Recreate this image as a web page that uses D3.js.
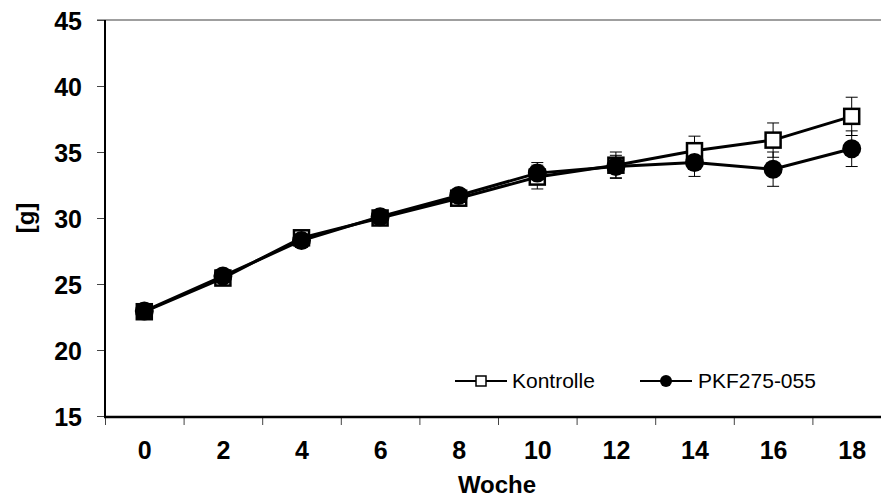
<!DOCTYPE html>
<html>
<head>
<meta charset="utf-8">
<script src="https://cdn.jsdelivr.net/npm/d3@7"></script>
<style>
  body { margin: 0; background: #fff; }
  svg { display: block; font-family: Arial, "Liberation Sans", Helvetica, sans-serif; }
  .tickLabel text { font-size: 25px; font-weight: bold; fill: #000; }
  .axisTitle { font-size: 24px; font-weight: bold; fill: #000; }
  .legendText { font-size: 21px; fill: #000; }
</style>
</head>
<body>
<div id="chart"></div>
<script>
// chart data
var weeks = [0, 2, 4, 6, 8, 10, 12, 14, 16, 18];
var kontrolle = [22.9, 25.45, 28.5, 30.0, 31.5, 33.1, 34.0, 35.1, 35.9, 37.7];
var kontrolleErr = [0.4, 0.4, 0.4, 0.4, 0.5, 0.9, 1.0, 1.1, 1.3, 1.45];
var pkf = [22.95, 25.6, 28.3, 30.1, 31.7, 33.4, 33.9, 34.2, 33.7, 35.25];
var pkfErr = [0.4, 0.4, 0.4, 0.4, 0.5, 0.8, 0.85, 1.05, 1.3, 1.35];
var yTicks = [15, 20, 25, 30, 35, 40, 45];
var seriesNames = ["Kontrolle", "PKF275-055"];

var svgWidth = 881;
var svgHeight = 499;

var svg = d3.select("#chart")
  .append("svg")
  .attr("width", svgWidth)
  .attr("height", svgHeight);

// x: weeks placed at category centres, tick marks between categories
var xScale = d3.scaleLinear()
  .domain([-1, 19])
  .range([105, 891]);

var yScale = d3.scaleLinear()
  .domain([15, 45])
  .range([416, 20]);

// top grey line at max value
svg.append("line")
  .attr("x1", 97).attr("x2", svgWidth)
  .attr("y1", yScale(45)).attr("y2", yScale(45))
  .attr("stroke", "#7f7f7f")
  .attr("stroke-width", 1.5);

// y axis
var leftAxis = d3.axisLeft(yScale)
  .tickValues(yTicks)
  .tickSize(8)
  .tickPadding(15);

var yAxisG = svg.append("g")
  .attr("class", "tickLabel")
  .attr("transform", "translate(105,0)")
  .call(leftAxis);
yAxisG.select(".domain").remove();
yAxisG.selectAll("line").attr("stroke", "#444").attr("stroke-width", 1);
yAxisG.selectAll("text").attr("dy", "0.36em").attr("font-family", "Arial, Liberation Sans, sans-serif");

svg.append("line")
  .attr("x1", 105).attr("x2", 105)
  .attr("y1", yScale(45)).attr("y2", yScale(15) + 1)
  .attr("stroke", "#000")
  .attr("stroke-width", 2);

// x axis tick marks (between categories)
var tickAxis = d3.axisBottom(xScale)
  .tickValues(d3.range(-1, 19, 2))
  .tickSize(8)
  .tickFormat("");

var xTickG = svg.append("g")
  .attr("transform", "translate(0,417)")
  .call(tickAxis);
xTickG.select(".domain").remove();
xTickG.selectAll("line").attr("stroke", "#444").attr("stroke-width", 1);

// x axis labels
var bottomAxis = d3.axisBottom(xScale)
  .tickValues(weeks)
  .tickSize(0)
  .tickPadding(24);

var xLabelG = svg.append("g")
  .attr("class", "tickLabel")
  .attr("transform", "translate(0,417)")
  .call(bottomAxis);
xLabelG.select(".domain").remove();

svg.append("line")
  .attr("x1", 104).attr("x2", svgWidth)
  .attr("y1", 417).attr("y2", 417)
  .attr("stroke", "#000")
  .attr("stroke-width", 2.5);

// axis titles
svg.append("text")
  .attr("class", "axisTitle")
  .attr("x", 497)
  .attr("y", 493)
  .attr("text-anchor", "middle")
  .text("Woche");

svg.append("text")
  .attr("class", "axisTitle")
  .attr("transform", "translate(34," + yScale(30) + ") rotate(-90)")
  .attr("text-anchor", "middle")
  .text("[g]");

// data rows
var rowsK = weeks.map(function(w, i) { return { week: w, value: kontrolle[i], err: kontrolleErr[i] }; });
var rowsP = weeks.map(function(w, i) { return { week: w, value: pkf[i], err: pkfErr[i] }; });

var line = d3.line()
  .x(d => xScale(d.week))
  .y(d => yScale(d.value));

function errorBars(rows) {
  var g = svg.append("g")
    .attr("stroke", "#000")
    .attr("stroke-width", 1);
  rows.forEach(function(d) {
    var x = xScale(d.week);
    var y1 = yScale(d.value + d.err);
    var y2 = yScale(d.value - d.err);
    g.append("line").attr("x1", x).attr("x2", x).attr("y1", y1).attr("y2", y2);
    g.append("line").attr("x1", x - 6).attr("x2", x + 6).attr("y1", y1).attr("y2", y1);
    g.append("line").attr("x1", x - 6).attr("x2", x + 6).attr("y1", y2).attr("y2", y2);
  });
}

errorBars(rowsK);
errorBars(rowsP);

// Kontrolle series
svg.append("path")
  .datum(rowsK)
  .attr("fill", "none")
  .attr("stroke", "#000")
  .attr("stroke-width", 3)
  .attr("d", line);

svg.append("g").selectAll("rect")
  .data(rowsK)
  .enter()
  .append("rect")
  .attr("x", d => xScale(d.week) - 7.5)
  .attr("y", d => yScale(d.value) - 7.5)
  .attr("width", 15)
  .attr("height", 15)
  .attr("fill", "#fff")
  .attr("stroke", "#000")
  .attr("stroke-width", 2.5);

// PKF series
svg.append("path")
  .datum(rowsP)
  .attr("fill", "none")
  .attr("stroke", "#000")
  .attr("stroke-width", 3)
  .attr("d", line);

svg.append("g").selectAll("circle")
  .data(rowsP)
  .enter()
  .append("circle")
  .attr("cx", d => xScale(d.week))
  .attr("cy", d => yScale(d.value))
  .attr("r", 9.5)
  .attr("fill", "#000");

// legend
var legend = svg.append("g");
var legendY = 381;

legend.append("line")
  .attr("x1", 455).attr("x2", 507)
  .attr("y1", legendY).attr("y2", legendY)
  .attr("stroke", "#000").attr("stroke-width", 2);
legend.append("rect")
  .attr("x", 476).attr("y", legendY - 5)
  .attr("width", 10).attr("height", 10)
  .attr("fill", "#fff").attr("stroke", "#000").attr("stroke-width", 1.5);
legend.append("text")
  .attr("class", "legendText")
  .attr("x", 512).attr("y", legendY + 7)
  .text(seriesNames[0]);

legend.append("line")
  .attr("x1", 640).attr("x2", 692)
  .attr("y1", legendY).attr("y2", legendY)
  .attr("stroke", "#000").attr("stroke-width", 2);
legend.append("circle")
  .attr("cx", 666).attr("cy", legendY)
  .attr("r", 6)
  .attr("fill", "#000");
legend.append("text")
  .attr("class", "legendText")
  .attr("x", 698).attr("y", legendY + 7)
  .text(seriesNames[1]);
</script>
</body>
</html>
